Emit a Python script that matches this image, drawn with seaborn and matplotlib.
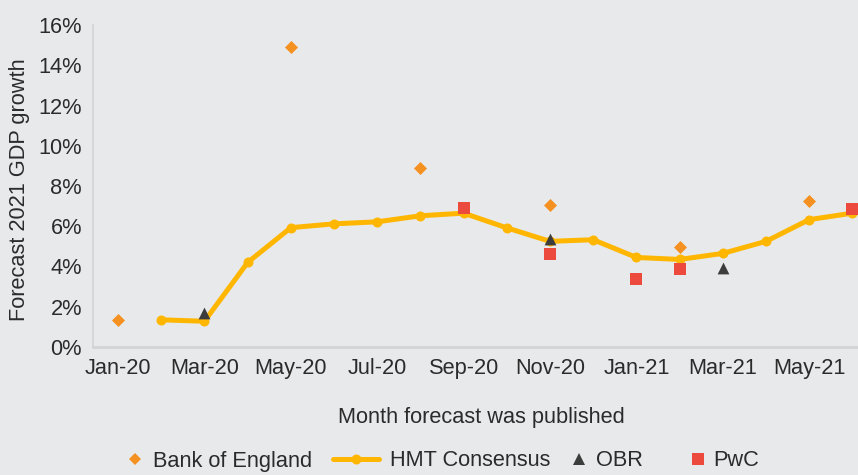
import numpy as np
import pandas as pd
import matplotlib
matplotlib.use("Agg")
import matplotlib.pyplot as plt
from matplotlib.lines import Line2D
import seaborn as sns

# ---- data ----
months = ["Jan-20", "Feb-20", "Mar-20", "Apr-20", "May-20", "Jun-20", "Jul-20", "Aug-20",
          "Sep-20", "Oct-20", "Nov-20", "Dec-20", "Jan-21", "Feb-21", "Mar-21", "Apr-21",
          "May-21", "Jun-21"]
boe_months = ["Jan-20", "May-20", "Aug-20", "Nov-20", "Feb-21", "May-21"]
boe_values = [1.35, 14.9, 8.9, 7.05, 4.95, 7.25]
hmt_months = ["Feb-20", "Mar-20", "Apr-20", "May-20", "Jun-20", "Jul-20", "Aug-20", "Sep-20",
              "Oct-20", "Nov-20", "Dec-20", "Jan-21", "Feb-21", "Mar-21", "Apr-21", "May-21",
              "Jun-21"]
hmt_values = [1.35, 1.28, 4.2, 5.93, 6.12, 6.22, 6.52, 6.65, 5.92, 5.25, 5.33, 4.45, 4.35,
              4.65, 5.25, 6.33, 6.65]
obr_months = ["Mar-20", "Nov-20", "Mar-21"]
obr_values = [1.7, 5.38, 3.92]
pwc_months = ["Sep-20", "Nov-20", "Jan-21", "Feb-21", "Jun-21"]
pwc_values = [6.9, 4.6, 3.4, 3.9, 6.85]
tick_labels = ["Jan-20", "Mar-20", "May-20", "Jul-20", "Sep-20", "Nov-20", "Jan-21",
               "Mar-21", "May-21"]
y_ticks = [0, 2, 4, 6, 8, 10, 12, 14, 16]
series_labels = ["Bank of England", "HMT Consensus", "OBR", "PwC"]

pos = {m: i for i, m in enumerate(months)}

bg = "#e8e9eb"
txt = "#2b2b2b"
c_boe = "#f59120"
c_hmt = "#ffb600"
c_obr = "#3c3c3c"
c_pwc = "#ec4a3c"
FS = 15.7

sns.set_theme(style="white")
plt.rcParams["font.family"] = ["Liberation Sans", "DejaVu Sans"]
plt.rcParams["text.color"] = txt

fig = plt.figure(figsize=(8.58, 4.75), dpi=100, facecolor=bg)
W, H = 858, 475
ax = fig.add_axes([93 / W, 1 - 347 / H, 781 / W, (347 - 25) / H])
ax.set_facecolor(bg)

hmt_df = pd.DataFrame({"x": [pos[m] for m in hmt_months], "y": hmt_values})
sns.lineplot(data=hmt_df, x="x", y="y", ax=ax, color=c_hmt, lw=3.6, marker="o",
             markersize=7.2, markeredgewidth=0, zorder=2)

sns.scatterplot(x=[pos[m] for m in obr_months], y=obr_values, ax=ax, marker="^",
                s=72, color=c_obr, linewidth=0, zorder=3)
sns.scatterplot(x=[pos[m] for m in pwc_months], y=pwc_values, ax=ax, marker="s",
                s=74, color=c_pwc, linewidth=0, zorder=4)
sns.scatterplot(x=[pos[m] for m in boe_months], y=boe_values, ax=ax, marker="D",
                s=44, color=c_boe, linewidth=0, zorder=4)

ax.set_xlim(-0.58, 17.5)
ax.set_ylim(0, 16)
ax.set_xticks([pos[m] for m in tick_labels])
ax.set_xticklabels(tick_labels)
ax.set_yticks(y_ticks)
ax.set_yticklabels([f"{v}%" for v in y_ticks])
ax.tick_params(axis="both", length=0, labelsize=FS, colors=txt)
ax.tick_params(axis="y", pad=8)
ax.tick_params(axis="x", pad=8)
ax.grid(False)

for s in ["top", "right"]:
    ax.spines[s].set_visible(False)
ax.spines["left"].set_color("#d3d4d6")
ax.spines["left"].set_linewidth(1.2)
ax.spines["bottom"].set_color("#d3d4d6")
ax.spines["bottom"].set_linewidth(2.0)

ax.set_xlabel("")
ax.set_ylabel("")
fig.text(19.5 / W, 1 - 190 / H, "Forecast 2021 GDP growth", rotation=90, ha="center",
         va="center", fontsize=FS, color=txt)
fig.text(481 / W, 1 - 417 / H, "Month forecast was published", ha="center",
         va="center", fontsize=FS, color=txt)

handles = [
    Line2D([], [], ls="none", marker="D", ms=6.6, color=c_boe, mew=0),
    Line2D([], [], color=c_hmt, lw=3.6, marker="o", ms=7.2, mew=0),
    Line2D([], [], ls="none", marker="^", ms=8.5, color=c_obr, mew=0),
    Line2D([], [], ls="none", marker="s", ms=8.6, color=c_pwc, mew=0),
]
lefts = [123.5, 333, 568.5, 689.5]
hls = [1.05, 2.11, 0.96, 0.78]
pads = [0.3, 0.5, 0.3, 0.3]
for h, lab, lx, hl, pd_ in zip(handles, series_labels, lefts, hls, pads):
    fig.legend([h], [lab], loc="center left", bbox_to_anchor=(lx / W, 1 - 461 / H),
               frameon=False, fontsize=FS, handlelength=hl, handletextpad=pd_,
               borderpad=0, borderaxespad=0, labelcolor=txt)

fig.savefig("out.png", dpi=100, facecolor=bg)
